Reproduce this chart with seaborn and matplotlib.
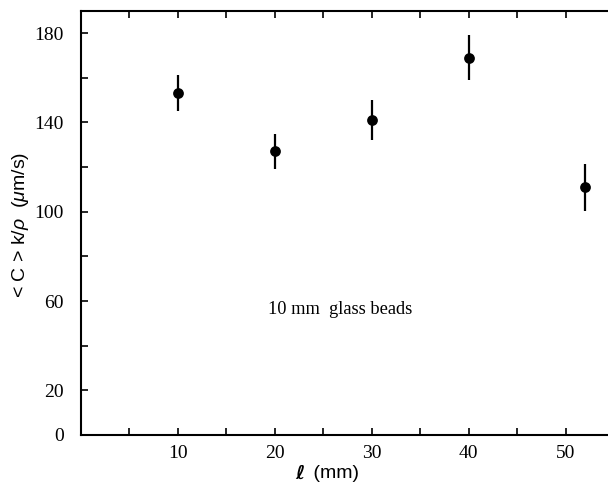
import numpy as np
import pandas as pd
import matplotlib
matplotlib.use("Agg")
import matplotlib.pyplot as plt
import seaborn as sns

# data
ell_mm = [10, 20, 30, 40, 52]
c_k_rho = [153, 127, 141, 169, 111]
err = [8, 8, 8.8, 10, 10.5]

x_ticks = [5, 10, 15, 20, 25, 30, 35, 40, 45, 50]
x_labels = ["", "10", "", "20", "", "30", "", "40", "", "50"]
y_ticks = [0, 20, 40, 60, 80, 100, 120, 140, 160, 180]
y_labels = ["0", "20", "", "60", "", "100", "", "140", "", "180"]

sns.set_theme(style="ticks")
plt.rcParams["font.family"] = ["Liberation Serif", "DejaVu Serif"]
plt.rcParams["text.color"] = "black"
plt.rcParams["mathtext.fontset"] = "custom"
plt.rcParams["mathtext.rm"] = "Liberation Sans"
plt.rcParams["mathtext.it"] = "Liberation Sans:italic"

df = pd.DataFrame({"ell": ell_mm, "c": c_k_rho, "err": err})

fig = plt.figure(figsize=(6.08, 4.87), dpi=100)
ax = fig.add_axes([0.1327, 0.1068, 0.8673, 0.8712])

ax.errorbar(df["ell"], df["c"], yerr=df["err"], fmt="none",
            ecolor="black", elinewidth=1.6, capsize=0, zorder=2)
sns.scatterplot(data=df, x="ell", y="c", ax=ax, color="black",
                s=60, edgecolor="black", linewidth=0, zorder=3)

ax.set_xlim(0, 54.36)
ax.set_ylim(0, 190)
ax.set_xticks(x_ticks)
ax.set_xticklabels(x_labels)
ax.set_yticks(y_ticks)
ax.set_yticklabels(y_labels)

ax.tick_params(axis="both", direction="in", length=5, width=1.2,
               labelsize=14, color="black", labelcolor="black")
ax.tick_params(axis="x", top=True, pad=7)
ax.tick_params(axis="y", pad=12)

for side in ["left", "bottom", "top"]:
    ax.spines[side].set_visible(True)
    ax.spines[side].set_linewidth(1.5)
    ax.spines[side].set_color("black")
ax.spines["right"].set_visible(False)

ax.set_xlabel("")
ax.set_ylabel("")

fig.text(0.033, 0.538, r"< C > k/$\rho$  ($\mu$m/s)", rotation=90,
         ha="center", va="center", fontsize=14, color="black",
         family=["Liberation Sans", "DejaVu Sans"])
fig.text(0.500, 0.028, "\u2113", ha="right", va="center", fontsize=14,
         family=["DejaVu Sans"], weight="bold", style="italic", color="black")
fig.text(0.507, 0.028, " (mm)", ha="left", va="center", fontsize=14,
         family=["Liberation Sans", "DejaVu Sans"], color="black")

ax.text(26.7, 56, "10 mm  glass beads", ha="center", va="center",
        fontsize=13.2, color="black",
        family=["Liberation Serif", "DejaVu Serif"])

fig.savefig("out.png", dpi=100)
